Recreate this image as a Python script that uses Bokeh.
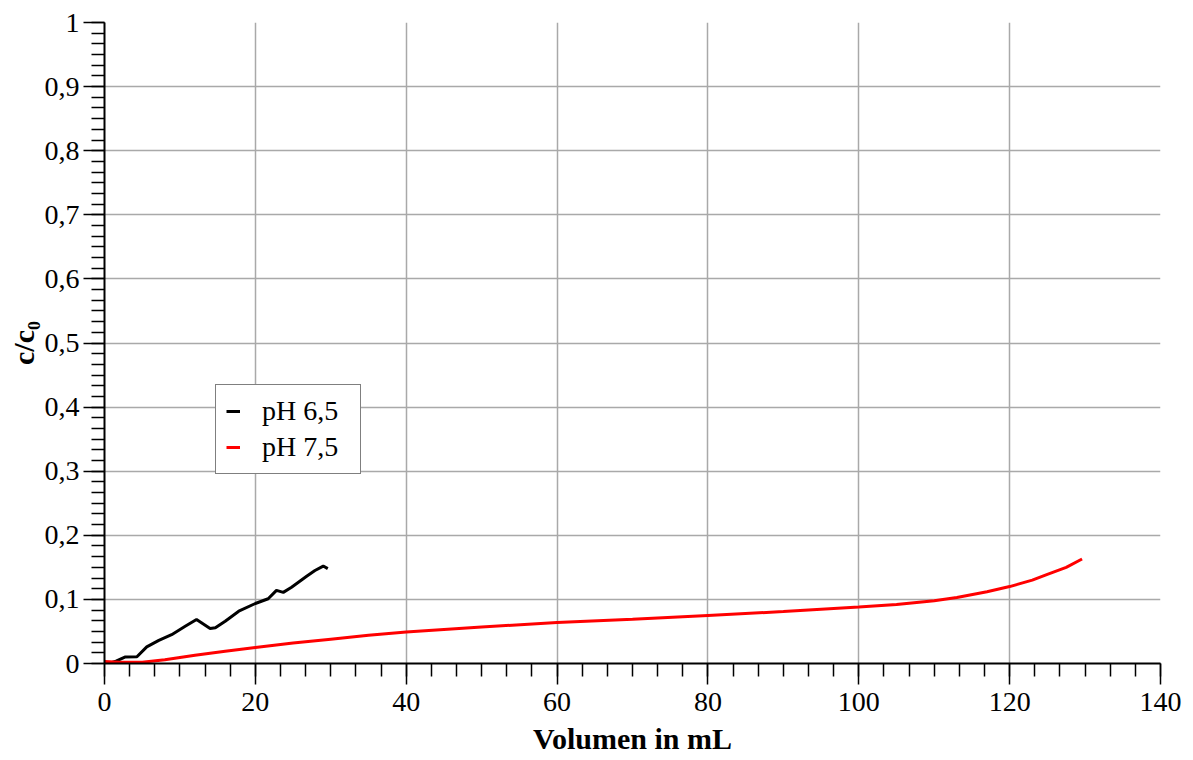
from bokeh.plotting import figure
from bokeh.models import Legend, LegendItem, FixedTicker, Range1d, CustomJSTickFormatter
from bokeh.embed import file_html
from bokeh.resources import INLINE

# Data
ph65_x = [0, 0.8, 1.6, 2.7, 4.3, 5.6, 7.2, 8.9, 10.7, 12.2, 14.0, 14.7, 16.0, 17.8, 20.0, 21.7, 22.8, 23.7, 24.8, 26.8, 27.9, 29.0, 29.6]
ph65_y = [0.0, 0.001, 0.004, 0.010, 0.0105, 0.026, 0.036, 0.045, 0.058, 0.0686, 0.0546, 0.0556, 0.066, 0.0816, 0.0936, 0.101, 0.114, 0.111, 0.119, 0.136, 0.145, 0.152, 0.148]

ph75_x = [0, 2, 5, 8, 12, 16, 20, 25, 30, 35, 40, 50, 60, 70, 80, 90, 100, 105, 110, 113, 117, 120, 123, 125, 127.5, 129.6]
ph75_y = [0.003, 0.002, 0.002, 0.006, 0.013, 0.019, 0.025, 0.032, 0.038, 0.044, 0.049, 0.057, 0.064, 0.069, 0.075, 0.081, 0.088, 0.092, 0.098, 0.103, 0.112, 0.120, 0.130, 0.139, 0.150, 0.163]

x_ticks = [0, 20, 40, 60, 80, 100, 120, 140]
y_ticks = [0, 0.1, 0.2, 0.3, 0.4, 0.5, 0.6, 0.7, 0.8, 0.9, 1.0]
legend_labels = ["pH 6,5", "pH 7,5"]

FONT = "Liberation Serif"

p = figure(frame_width=1056, frame_height=641, output_backend="svg", toolbar_location=None,
           x_range=Range1d(0, 140), y_range=Range1d(0, 1),
           min_border_left=104, min_border_top=22, min_border_right=24, min_border_bottom=88)
p.outline_line_color = None
p.background_fill_color = "white"

r1 = p.line(ph65_x, ph65_y, line_color="black", line_width=3)
r2 = p.line(ph75_x, ph75_y, line_color="#ff0000", line_width=3)

# Axes
for ax in (p.xaxis[0], p.yaxis[0]):
    ax.axis_line_color = "black"
    ax.axis_line_width = 2
    ax.major_tick_line_color = "black"
    ax.minor_tick_line_color = "black"
    ax.major_tick_line_width = 1.5
    ax.minor_tick_line_width = 1.5
    ax.major_tick_in = 0
    ax.minor_tick_in = 0
    ax.major_tick_out = 21
    ax.minor_tick_out = 13
    ax.major_label_text_font = FONT
    ax.major_label_text_font_size = "28px"
    ax.major_label_text_color = "black"
    ax.axis_label_text_font = FONT
    ax.axis_label_text_font_size = "30px"
    ax.axis_label_text_font_style = "bold"
    ax.axis_label_text_color = "black"

p.xaxis[0].ticker = FixedTicker(ticks=x_ticks, minor_ticks=[i * 20 / 6 for i in range(0, 43)])
p.yaxis[0].ticker = FixedTicker(ticks=y_ticks, minor_ticks=[i / 60 for i in range(0, 61)])
fmt = CustomJSTickFormatter(code="return (Math.round(tick*10)/10).toString().replace('.', ',');")
p.xaxis[0].formatter = fmt
p.yaxis[0].formatter = fmt
p.xaxis[0].major_label_standoff = 8
p.yaxis[0].major_label_standoff = 4
p.xaxis[0].axis_label = "Volumen in mL"
p.yaxis[0].axis_label = "c/c\u2080"
p.xaxis[0].axis_label_standoff = 8
p.yaxis[0].axis_label_standoff = 2

# Grid
p.xgrid[0].ticker = FixedTicker(ticks=x_ticks[1:-1])
p.ygrid[0].ticker = FixedTicker(ticks=y_ticks[1:-1])
for g in (p.xgrid[0], p.ygrid[0]):
    g.grid_line_color = "#a9a9a9"
    g.grid_line_width = 1.5

legend = Legend(items=[LegendItem(label=legend_labels[0], renderers=[r1]),
                       LegendItem(label=legend_labels[1], renderers=[r2])],
                location=(111, 189))
legend.label_text_font = FONT
legend.label_text_font_size = "28px"
legend.label_text_color = "black"
legend.glyph_width = 14
legend.glyph_height = 30
legend.label_height = 30
legend.label_width = 88
legend.label_standoff = 22
legend.spacing = 4
legend.padding = 10
legend.margin = 0
legend.border_line_color = "black"
legend.border_line_width = 1.5
legend.background_fill_alpha = 1
p.add_layout(legend)

open("out.html", "w").write(file_html(p, INLINE))
